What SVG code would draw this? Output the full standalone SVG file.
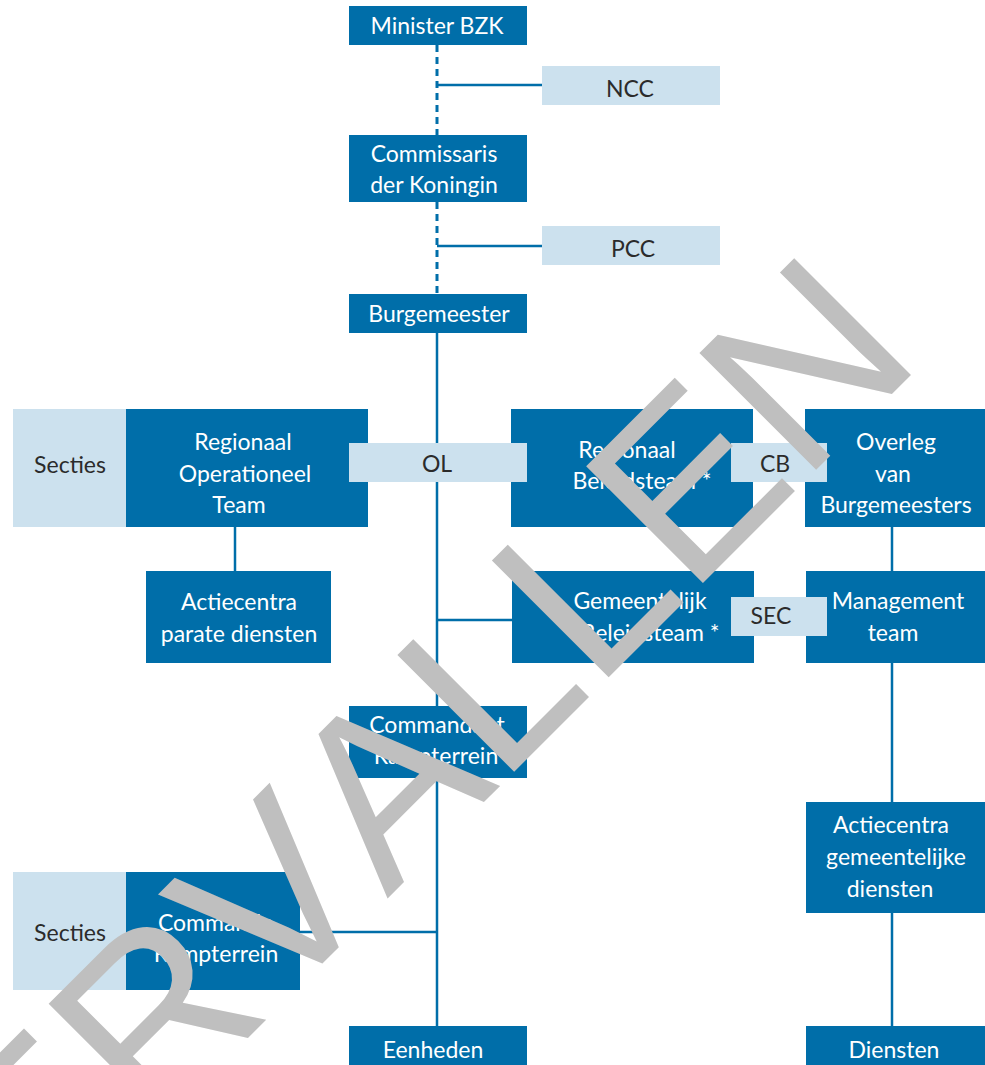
<svg xmlns="http://www.w3.org/2000/svg" width="985" height="1065" viewBox="0 0 985 1065">
<style>
.dk{fill:#006ea9}
.lt{fill:#cce1ee}
.tw{font-family:Lato,"Open Sans","DejaVu Sans",sans-serif;font-size:23px;fill:#ffffff;text-anchor:middle}
.tb{font-family:Lato,"Open Sans","DejaVu Sans",sans-serif;font-size:23px;fill:#2b2b2b;text-anchor:middle}
.ln{stroke:#006ea9;stroke-width:2.5;fill:none}
.ds{stroke:#006ea9;stroke-width:3;fill:none;stroke-dasharray:7 5}
.wm{font-family:"Liberation Sans",Arial,sans-serif;font-size:240px;fill:#bfbfbf;font-kerning:none;font-feature-settings:"kern" 0;letter-spacing:0}
</style>
<rect width="985" height="1065" fill="#ffffff"/>
<g id="connectors">
<line class="ds" x1="437" y1="45" x2="437" y2="135"/>
<line class="ds" x1="437" y1="202" x2="437" y2="294"/>
<line class="ln" x1="437" y1="85" x2="542" y2="85"/>
<line class="ln" x1="437" y1="246" x2="542" y2="246"/>
<line class="ln" x1="437" y1="333" x2="437" y2="1026"/>
<line class="ln" x1="437" y1="620" x2="512" y2="620"/>
<line class="ln" x1="300" y1="932" x2="437" y2="932"/>
<line class="ln" x1="235" y1="527" x2="235" y2="571"/>
<line class="ln" x1="892" y1="527" x2="892" y2="571"/>
<line class="ln" x1="892" y1="663" x2="892" y2="802"/>
<line class="ln" x1="892" y1="913" x2="892" y2="1026"/>
</g>
<g id="minister">
<rect class="dk" x="349" y="6" width="178" height="39"/>
<text class="tw" x="437" y="33.5">Minister BZK</text>
</g>
<g id="ncc">
<rect class="lt" x="542" y="66" width="178" height="39"/>
<text class="tb" x="630" y="97">NCC</text>
</g>
<g id="cdk">
<rect class="dk" x="349" y="135" width="178" height="67"/>
<text class="tw" x="434" y="162">Commissaris</text>
<text class="tw" x="434" y="193">der Koningin</text>
</g>
<g id="pcc">
<rect class="lt" x="542" y="226" width="178" height="39"/>
<text class="tb" x="633" y="257">PCC</text>
</g>
<g id="burgemeester">
<rect class="dk" x="349" y="294" width="178" height="39"/>
<text class="tw" x="439" y="321.5">Burgemeester</text>
</g>
<g id="secties1">
<rect class="lt" x="13" y="409" width="113" height="118"/>
<text class="tb" x="70" y="473">Secties</text>
</g>
<g id="rot">
<rect class="dk" x="126" y="409" width="242" height="118"/>
<text class="tw" x="243" y="450">Regionaal</text>
<text class="tw" x="245" y="481.5">Operationeel</text>
<text class="tw" x="239" y="513">Team</text>
</g>
<g id="rbt">
<rect class="dk" x="511" y="409" width="242" height="118"/>
<text class="tw" x="627" y="458">Regionaal</text>
<text class="tw" x="642" y="489">Beleidsteam *</text>
</g>
<g id="ovb">
<rect class="dk" x="805" y="409" width="180" height="118"/>
<text class="tw" x="896" y="450">Overleg</text>
<text class="tw" x="893" y="481.5">van</text>
<text class="tw" x="896" y="513">Burgemeesters</text>
</g>
<g id="ol">
<rect class="lt" x="349" y="443" width="178" height="39"/>
<text class="tb" x="437" y="472">OL</text>
</g>
<g id="cb">
<rect class="lt" x="731" y="443" width="96" height="39"/>
<text class="tb" x="775" y="472">CB</text>
</g>
<g id="acpd">
<rect class="dk" x="146" y="571" width="185" height="92"/>
<text class="tw" x="239" y="610">Actiecentra</text>
<text class="tw" x="239" y="641.5">parate diensten</text>
</g>
<g id="gbt">
<rect class="dk" x="512" y="571" width="242" height="92"/>
<text class="tw" x="640" y="609">Gemeentelijk</text>
<text class="tw" x="650" y="640.5">Beleidsteam *</text>
</g>
<g id="mt">
<rect class="dk" x="806" y="571" width="179" height="92"/>
<text class="tw" x="898" y="609">Management</text>
<text class="tw" x="893" y="640.5">team</text>
</g>
<g id="sec">
<rect class="lt" x="731" y="597" width="96" height="39"/>
<text class="tb" x="771" y="624">SEC</text>
</g>
<g id="crt">
<rect class="dk" x="349" y="706" width="178" height="72"/>
<text class="tw" x="437" y="732.5">Commandant</text>
<text class="tw" x="436" y="764">Rampterrein</text>
</g>
<g id="acgd">
<rect class="dk" x="806" y="802" width="179" height="111"/>
<text class="tw" x="891" y="833">Actiecentra</text>
<text class="tw" x="896" y="865">gemeentelijke</text>
<text class="tw" x="890" y="897">diensten</text>
</g>
<g id="secties2">
<rect class="lt" x="13" y="872" width="113" height="118"/>
<text class="tb" x="70" y="941">Secties</text>
</g>
<g id="cort">
<rect class="dk" x="126" y="872" width="174" height="118"/>
<text class="tw" x="216" y="931">Commando</text>
<text class="tw" x="216" y="962">Rampterrein</text>
</g>
<g id="eenheden">
<rect class="dk" x="349" y="1026" width="178" height="45"/>
<text class="tw" x="433" y="1058">Eenheden</text>
</g>
<g id="diensten">
<rect class="dk" x="806" y="1026" width="179" height="45"/>
<text class="tw" x="894" y="1058">Diensten</text>
</g>
<text class="wm" transform="translate(-75,1361) rotate(-45)">VERVALLEN</text>
</svg>
